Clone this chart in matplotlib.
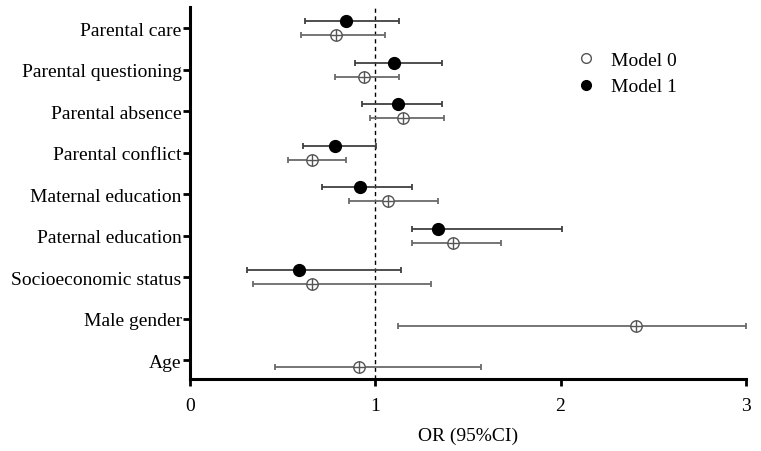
import numpy as np
import matplotlib
matplotlib.use("Agg")
import matplotlib.pyplot as plt
from matplotlib.lines import Line2D

categories = ["Parental care", "Parental questioning", "Parental absence",
              "Parental conflict", "Maternal education", "Paternal education",
              "Socioeconomic status", "Male gender", "Age"]

m0_or = [0.79, 0.94, 1.15, 0.66, 1.07, 1.42, 0.66, 2.41, 0.91]
m0_lo = [0.60, 0.78, 0.97, 0.53, 0.86, 1.20, 0.34, 1.12, 0.46]
m0_hi = [1.05, 1.13, 1.37, 0.84, 1.34, 1.68, 1.30, 3.00, 1.57]

m1_or = [0.84, 1.10, 1.12, 0.78, 0.92, 1.34, 0.59, np.nan, np.nan]
m1_lo = [0.62, 0.89, 0.93, 0.61, 0.71, 1.20, 0.31, np.nan, np.nan]
m1_hi = [1.13, 1.36, 1.36, 1.005, 1.20, 2.01, 1.14, np.nan, np.nan]

plt.rcParams['font.family'] = ['Liberation Serif', 'DejaVu Serif']

fig = plt.figure(figsize=(7.61, 4.52), dpi=100)
ax = fig.add_axes([0.2497, 0.159, 0.7303, 0.823])

n = len(categories)
ypos = np.arange(n)[::-1].astype(float)
off = 0.17

m0_or = np.array(m0_or); m0_lo = np.array(m0_lo); m0_hi = np.array(m0_hi)
m1_or = np.array(m1_or); m1_lo = np.array(m1_lo); m1_hi = np.array(m1_hi)

ax.axvline(1, color='black', lw=1.0, ls=(0, (3, 2.5)), zorder=1)

# Model 0
ax.errorbar(m0_or, ypos - off, xerr=[m0_or - m0_lo, m0_hi - m0_or], fmt='none',
            ecolor='#6a6a6a', elinewidth=1.3, capsize=2.5, capthick=1.3, zorder=2)
ax.plot(m0_or, ypos - off, 'o', ms=8.2, mfc='white', mec='#555555', mew=1.0, ls='none', zorder=3)
ax.plot(m0_or, ypos - off, '|', ms=8.2, mec='#555555', mew=1.0, ls='none', zorder=4)
ax.plot(m0_or, ypos - off, '_', ms=8.2, mec='#555555', mew=1.0, ls='none', zorder=4)

# Model 1
ax.errorbar(m1_or, ypos + off, xerr=[m1_or - m1_lo, m1_hi - m1_or], fmt='none',
            ecolor='#404040', elinewidth=1.3, capsize=2.5, capthick=1.3, zorder=2)
ax.plot(m1_or, ypos + off, 'o', ms=8.5, mfc='black', mec='black', ls='none', zorder=3)

ax.set_xlim(0, 3)
ax.set_ylim(-0.46, n - 1 + 0.51)
ax.set_xticks([0, 1, 2, 3])
ax.set_xticklabels(['0', '1', '2', '3'])
ax.set_yticks(ypos)
ax.set_yticklabels(categories)
ax.tick_params(axis='both', labelsize=14, width=2, length=5, direction='out', color='black')
ax.tick_params(axis='y', pad=1)
ax.tick_params(axis='x', pad=8)
ax.set_xlabel('OR (95%CI)', fontsize=14, labelpad=9)

for s in ['top', 'right']:
    ax.spines[s].set_visible(False)
for s in ['left', 'bottom']:
    ax.spines[s].set_linewidth(2.2)

handles = [Line2D([], [], marker='o', ls='none', ms=7, mfc='white', mec='#555555', mew=1.0),
           Line2D([], [], marker='o', ls='none', ms=7, mfc='black', mec='black')]
ax.legend(handles, ['Model 0', 'Model 1'], loc='upper left', bbox_to_anchor=(0.646, 0.928),
          frameon=False, fontsize=14, handletextpad=0.3, labelspacing=0.45)

fig.savefig('out.png', dpi=100)
